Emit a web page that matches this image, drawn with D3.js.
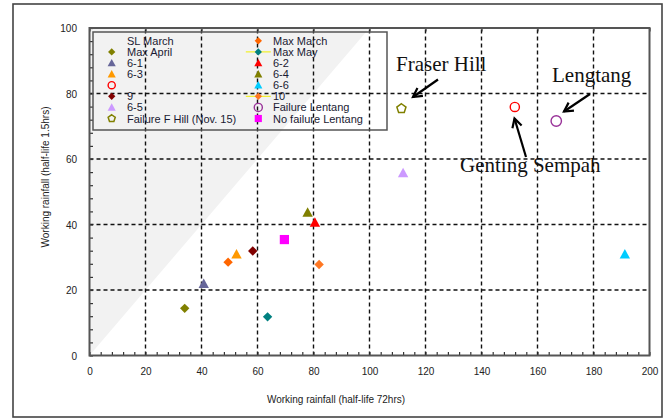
<!DOCTYPE html>
<html>
<head>
<meta charset="utf-8">
<script src="https://cdn.jsdelivr.net/npm/d3@7/dist/d3.min.js"></script>
<style>
  html, body { margin: 0; padding: 0; background: #fff; }
  svg { display: block; }
  .tick-label { font-family: "Liberation Sans", Arial, sans-serif; font-size: 10px; fill: #222; }
  .legend-text { font-family: "Liberation Sans", Arial, sans-serif; font-size: 11px; fill: #1a1a33; }
  .note { font-family: "Liberation Serif", "Times New Roman", serif; font-size: 21px; fill: #111; }
</style>
</head>
<body>
<script>
// Series in legend order (row by row, two columns)
const seriesNames = ["SL March", "Max March", "Max April", "Max May", "6-1", "6-2", "6-3", "6-4",
                     "", "6-6", "9", "10", "6-5", "Failure Lentang", "Failure F Hill (Nov. 15)", "No failure Lentang"];
// Working rainfall, half-life 72 hrs (mm)
const rain72 = [null, 49.5, 34.0, 63.6, 40.8, 80.5, 52.5, 77.9,
                151.9, 191.2, 58.3, 82.0, 112.0, 166.7, 111.4, 69.6];
// Working rainfall, half-life 1.5 hrs (mm)
const rain15 = [null, 28.5, 14.4, 11.8, 21.9, 40.6, 30.9, 43.7,
                75.9, 30.9, 31.9, 27.8, 55.7, 71.6, 75.4, 35.4];

const xTickValues = [0, 20, 40, 60, 80, 100, 120, 140, 160, 180, 200];
const yTickValues = [0, 20, 40, 60, 80, 100];

const siteNotes = [
  { text: "Fraser Hill",    series: "Failure F Hill (Nov. 15)" },
  { text: "Lengtang",       series: "Failure Lentang" },
  { text: "Genting Sempah", series: "" }
];

// Marker styling per series
const markerStyle = {
  "SL March":               { shape: "none" },
  "Max March":              { shape: "diamond",  color: "#ff6600" },
  "Max April":              { shape: "diamond",  color: "#808000" },
  "Max May":                { shape: "diamond",  color: "#008080", legendLine: "#f0f000" },
  "6-1":                    { shape: "triangle", color: "#666699" },
  "6-2":                    { shape: "triangle", color: "#ff0000" },
  "6-3":                    { shape: "triangle", color: "#ff9900" },
  "6-4":                    { shape: "triangle", color: "#808000" },
  "":                       { shape: "circle",   color: "#ff0000", hollow: true },
  "6-6":                    { shape: "triangle", color: "#00ccff" },
  "9":                      { shape: "diamond",  color: "#800000" },
  "10":                     { shape: "diamond",  color: "#ff7722", legendLine: "#f0f000" },
  "6-5":                    { shape: "triangle", color: "#cc99ff" },
  "Failure Lentang":        { shape: "circle",   color: "#993399", hollow: true, r: 5.2 },
  "Failure F Hill (Nov. 15)": { shape: "pentagon", color: "#808000", hollow: true },
  "No failure Lentang":     { shape: "square",   color: "#ff00ff" }
};

const W = 670, H = 419;
const svg = d3.select("body").append("svg").attr("width", W).attr("height", H);

const x = d3.scaleLinear().domain([0, 200]).range([89.5, 649.5]);
const y = d3.scaleLinear().domain([0, 100]).range([355.5, 28]);

// outer frame
svg.append("rect").attr("x", 13).attr("y", 4).attr("width", 649).attr("height", 413)
  .attr("fill", "none").attr("stroke", "#444").attr("stroke-width", 1.6);

// shaded region where 1.5 hr rainfall exceeds 72 hr rainfall
svg.append("path")
  .attr("d", d3.line()([[x(0), y(0)], [x(100), y(100)], [x(0), y(100)]]) + "Z")
  .attr("fill", "#f2f2f2");

// dashed grid
const grid = svg.append("g").attr("stroke", "#111").attr("stroke-width", 1.4).attr("stroke-dasharray", "4,3");
grid.selectAll(".gx").data(xTickValues.filter(v => v > 0 && v < 200)).join("line")
  .attr("x1", d => x(d)).attr("x2", d => x(d)).attr("y1", y(0)).attr("y2", y(100));
grid.selectAll(".gy").data(yTickValues.filter(v => v > 0 && v < 100)).join("line")
  .attr("y1", d => y(d)).attr("y2", d => y(d)).attr("x1", x(0)).attr("x2", x(200));

// inward ticks
function tickAxis(axis, transform) {
  const g = svg.append("g").attr("transform", transform).call(axis);
  g.select(".domain").remove();
  g.selectAll(".tick line").attr("stroke", "#333").attr("stroke-width", 1.2);
  g.selectAll(".tick text").remove();
  return g;
}
tickAxis(d3.axisBottom(x).tickValues(d3.range(0, 201, 4)).tickSize(-3.5), `translate(0,${y(0)})`);
tickAxis(d3.axisTop(x).tickValues(xTickValues).tickSize(-3.5), `translate(0,${y(100)})`);
tickAxis(d3.axisLeft(y).tickValues(d3.range(0, 101, 4)).tickSize(-3.5), `translate(${x(0)},0)`);

// tick labels
const xl = svg.append("g").attr("transform", `translate(0,${y(0) + 19.5})`)
  .call(d3.axisBottom(x).tickValues(xTickValues).tickSize(0).tickPadding(0));
xl.select(".domain").remove();
xl.selectAll("text").attr("class", "tick-label").attr("dy", null).attr("y", 0).attr("font-size", null).attr("font-family", null).attr("fill", null);

const yl = svg.append("g").attr("transform", `translate(77,0)`)
  .call(d3.axisLeft(y).tickValues(yTickValues).tickSize(0).tickPadding(0));
yl.select(".domain").remove();
yl.selectAll("text").attr("class", "tick-label").attr("x", 0).attr("dy", "0.35em").attr("font-size", null).attr("font-family", null).attr("fill", null);

// axis titles
svg.append("text").attr("class", "tick-label").attr("x", 336).attr("y", 403)
  .attr("text-anchor", "middle").text("Working rainfall (half-life 72hrs)");
svg.append("text").attr("class", "tick-label").attr("transform", "translate(49,177) rotate(-90)")
  .attr("text-anchor", "middle").text("Working rainfall (half-life 1.5hrs)");

// plot frame
svg.append("rect").attr("x", x(0)).attr("y", y(100)).attr("width", x(200) - x(0)).attr("height", y(0) - y(100))
  .attr("fill", "none").attr("stroke", "#555").attr("stroke-width", 2);

// marker path generator
function markerPath(shape, s) {
  const p = d3.path();
  if (shape === "diamond") {
    const r = 4.7 * s;
    p.moveTo(0, -r); p.lineTo(r, 0); p.lineTo(0, r); p.lineTo(-r, 0); p.closePath();
  } else if (shape === "triangle") {
    const w = 5.2 * s, h = 9.5 * s;
    p.moveTo(0, -h * 0.55); p.lineTo(w, h * 0.45); p.lineTo(-w, h * 0.45); p.closePath();
  } else if (shape === "square") {
    const r = 4.6 * s;
    p.rect(-r, -r, 2 * r, 2 * r);
  } else if (shape === "pentagon") {
    const r = 4.8 * s;
    for (let i = 0; i < 5; i++) {
      const a = -Math.PI / 2 + i * 2 * Math.PI / 5;
      if (i === 0) p.moveTo(r * Math.cos(a), r * Math.sin(a)); else p.lineTo(r * Math.cos(a), r * Math.sin(a));
    }
    p.closePath();
  }
  return p.toString();
}

function drawMarker(g, st, s) {
  if (st.shape === "none") return;
  if (st.shape === "circle") {
    g.append("circle").attr("r", (st.r || 4.6) * s).attr("fill", "none")
      .attr("stroke", st.color).attr("stroke-width", 1.4);
  } else {
    g.append("path").attr("d", markerPath(st.shape, s))
      .attr("fill", st.hollow ? "none" : st.color)
      .attr("stroke", st.hollow ? st.color : "none").attr("stroke-width", 1.5);
  }
}

// data points
const points = seriesNames.map((n, i) => ({ name: n, x: rain72[i], y: rain15[i] })).filter(d => d.x !== null);
points.forEach(d => {
  const g = svg.append("g").attr("transform", `translate(${x(d.x)},${y(d.y)})`);
  drawMarker(g, markerStyle[d.name], 1);
});

// legend
const legend = svg.append("g");
legend.append("rect").attr("x", 93).attr("y", 32).attr("width", 294).attr("height", 98)
  .attr("fill", "none").attr("stroke", "#555").attr("stroke-width", 1.5);
const colX = [[111.7, 127], [258.3, 273]];
seriesNames.forEach((n, i) => {
  const col = i % 2, row = Math.floor(i / 2);
  const cy = 40.8 + row * 11.1;
  const st = markerStyle[n];
  if (st.legendLine) {
    legend.append("line").attr("x1", colX[col][0] - 12.5).attr("x2", colX[col][0] + 12.5)
      .attr("y1", cy).attr("y2", cy).attr("stroke", st.legendLine).attr("stroke-width", 1);
  }
  const g = legend.append("g").attr("transform", `translate(${colX[col][0]},${cy})`);
  drawMarker(g, st, 0.78);
  if (n) legend.append("text").attr("class", "legend-text").attr("x", colX[col][1]).attr("y", cy + 4).text(n);
});

// site annotations with arrows
const notePos = {
  "Fraser Hill":    { tx: 396, ty: 71, from: [438, 79.5], to: [413, 97] },
  "Lengtang":       { tx: 552, ty: 82, from: [590, 94], to: [564, 111.5] },
  "Genting Sempah": { tx: 460, ty: 172, from: [526, 157], to: [514.5, 118.5] }
};
siteNotes.forEach(nt => {
  const p = notePos[nt.text];
  svg.append("text").attr("class", "note").attr("x", p.tx).attr("y", p.ty).text(nt.text);
  const [x1, y1] = p.from, [x2, y2] = p.to;
  const ang = Math.atan2(y2 - y1, x2 - x1), L = 10, spread = 0.5;
  const head = d3.path();
  head.moveTo(x2 - L * Math.cos(ang - spread), y2 - L * Math.sin(ang - spread));
  head.lineTo(x2, y2);
  head.lineTo(x2 - L * Math.cos(ang + spread), y2 - L * Math.sin(ang + spread));
  svg.append("line").attr("x1", x1).attr("y1", y1).attr("x2", x2).attr("y2", y2)
    .attr("stroke", "#000").attr("stroke-width", 2.2);
  svg.append("path").attr("d", head.toString()).attr("fill", "none")
    .attr("stroke", "#000").attr("stroke-width", 2.2);
});
</script>
</body>
</html>
